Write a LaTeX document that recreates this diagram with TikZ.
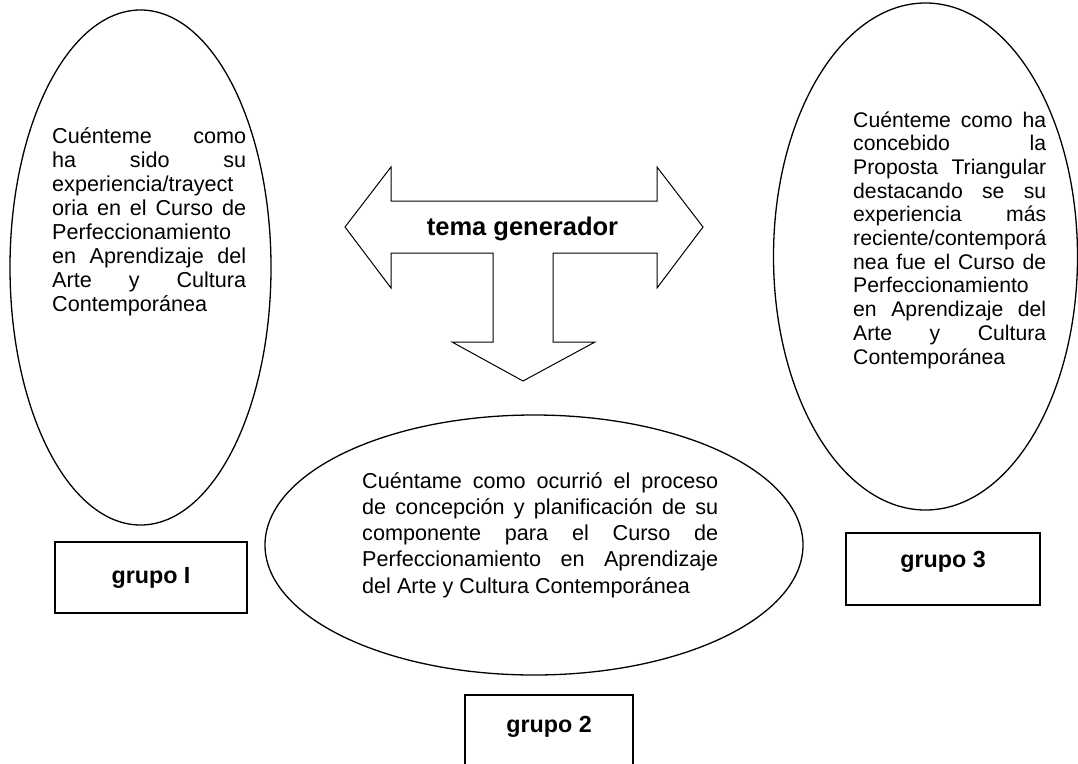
\documentclass[tikz,border=0pt]{standalone}
\usepackage{fontspec}
\setmainfont{Liberation Sans}
\usetikzlibrary{shapes.geometric}
\newcommand\jline[1]{\makebox[\linewidth][s]{#1}\par}
\newcommand\nline[1]{\mbox{#1}\par}
\begin{document}
\begin{tikzpicture}[x=1pt,y=-1pt,
  oval/.style={draw, ellipse, line width=1.3pt, inner sep=0pt},
  gbox/.style={draw, line width=1.7pt, inner sep=0pt},
  glabel/.style={font=\fontsize{23.3}{26}\selectfont\bfseries, inner sep=0pt, anchor=base},
  body/.style={inner sep=0pt, anchor=base west, font=\fontsize{21.6}{24}\selectfont},
  bodyr/.style={inner sep=0pt, anchor=base west, font=\fontsize{21.2}{23.7}\selectfont},
  bodywide/.style={inner sep=0pt, anchor=base west, font=\fontsize{21.6}{26.3}\selectfont},
  blockarrow/.style={draw, line width=1pt, line join=miter}
]
\clip (0,0) rectangle (1078,763);
\useasboundingbox (0,0) rectangle (1078,763);
\fill[white] (0,0) rectangle (1078,763);

% ellipses
\node[oval, minimum width=261pt, minimum height=515pt] (e1) at (140.5,267.5) {};
\node[oval, minimum width=304pt, minimum height=507pt] (e3) at (925.5,256.5) {};
\node[oval, minimum width=538pt, minimum height=260pt] (e2) at (534,545) {};

% texts in ellipses
\node[body] (t1) at (52,143) {\parbox[t]{194pt}{%
\jline{Cuénteme como}%
\jline{ha sido su}%
\nline{experiencia/trayect}%
\jline{oria en el Curso de}%
\nline{Perfeccionamiento}%
\jline{en Aprendizaje del}%
\jline{Arte y Cultura}%
\nline{Contemporánea}}};

\node[bodyr] (t3) at (853,127) {\parbox[t]{193pt}{%
\jline{Cuénteme como ha}%
\jline{concebido la}%
\jline{Proposta Triangular}%
\jline{destacando se su}%
\jline{experiencia más}%
\nline{reciente/contemporá}%
\jline{nea fue el Curso de}%
\nline{Perfeccionamiento}%
\jline{en Aprendizaje del}%
\jline{Arte y Cultura}%
\nline{Contemporánea}}};

\node[bodywide] (t2) at (362,488) {\parbox[t]{356pt}{%
\jline{Cuéntame como ocurrió el proceso}%
\jline{de concepción y planificación de su}%
\jline{componente para el Curso de}%
\jline{Perfeccionamiento en Aprendizaje}%
\nline{del Arte y Cultura Contemporánea}}};

% block arrow
\draw[blockarrow] (345,227) -- (391,167) -- (391,201) -- (657,201) -- (657,167)
  -- (703,227) -- (657,288) -- (657,253) -- (553,253) -- (553,342) -- (595,342)
  -- (523,381) -- (452,342) -- (493,342) -- (493,253) -- (391,253) -- (391,288) -- cycle;
\node[font=\fontsize{25.5}{28}\selectfont\bfseries, inner sep=0pt, anchor=base] (tg) at (522.5,235) {tema generador};

% group boxes
\node[gbox, minimum width=192pt, minimum height=71pt] (g1) at (151,577.5) {};
\node[glabel] (l1) at (151,583.5) {grupo I};
\node[gbox, minimum width=194pt, minimum height=72pt] (g3) at (943,569) {};
\node[glabel] (l3) at (943,567) {grupo 3};
\node[gbox, minimum width=168pt, minimum height=90pt] (g2) at (549,740) {};
\node[glabel] (l2) at (549,732) {grupo 2};
\end{tikzpicture}
\end{document}
